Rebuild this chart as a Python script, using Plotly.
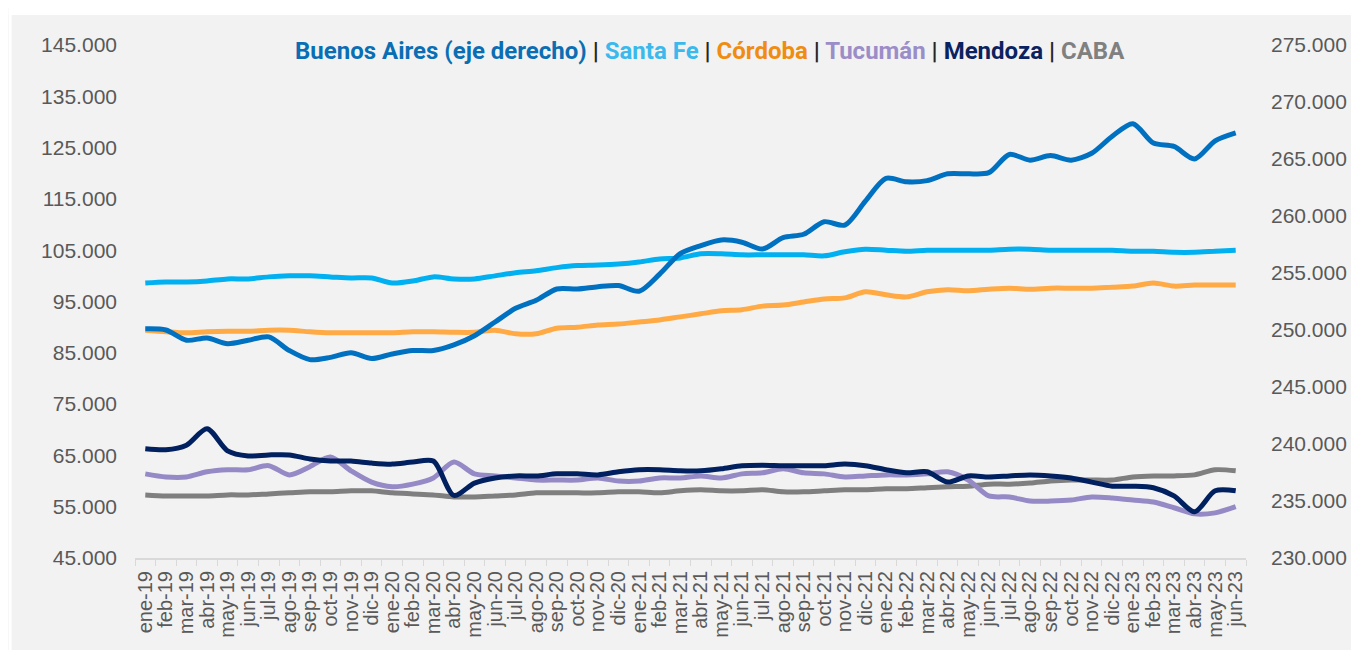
import plotly.graph_objects as go

months = ["ene", "feb", "mar", "abr", "may", "jun", "jul", "ago", "sep", "oct", "nov", "dic"]
categories = [f"{m}-{y}" for y in ["19", "20", "21", "22"] for m in months] + \
             [f"{m}-23" for m in months[:6]]

buenos_aires = [250100, 250000, 249100, 249300, 248800, 249100, 249400, 248200, 247400, 247600,
                248000, 247500, 247900, 248200, 248200, 248700, 249500, 250700, 251900, 252600,
                253600, 253600, 253800, 253900, 253400, 254900, 256700, 257400, 257900, 257700,
                257100, 258100, 258400, 259500, 259200, 261300, 263300, 263000, 263100, 263700,
                263700, 263800, 265400, 264900, 265300, 264900, 265500, 267000, 268100, 266400,
                266100, 265000, 266600, 267300]
santa_fe = [98600, 98800, 98800, 99000, 99400, 99400, 99800, 100000, 100000, 99800,
            99600, 99600, 98600, 99000, 99800, 99400, 99400, 100000, 100600, 101000,
            101600, 102000, 102100, 102300, 102700, 103300, 103500, 104300, 104300, 104100,
            104100, 104100, 104100, 103900, 104700, 105200, 105000, 104800, 105000, 105000,
            105000, 105000, 105200, 105200, 105000, 105000, 105000, 105000, 104800, 104800,
            104600, 104600, 104800, 105000]
cordoba = [89400, 89100, 88900, 89100, 89200, 89200, 89400, 89400, 89100, 88900,
           88900, 88900, 88900, 89100, 89100, 89000, 89000, 89400, 88700, 88700,
           89800, 90000, 90400, 90600, 91000, 91400, 92000, 92600, 93200, 93400,
           94100, 94300, 94900, 95500, 95700, 96900, 96300, 95900, 96900, 97300,
           97100, 97400, 97600, 97400, 97600, 97600, 97600, 97800, 98000, 98600,
           98000, 98200, 98200, 98200]
tucuman = [61400, 60800, 60800, 61800, 62200, 62200, 63000, 61200, 62800, 64700,
           62000, 59800, 58900, 59400, 60600, 63700, 61400, 61000, 60600, 60200,
           60200, 60200, 60600, 60000, 60000, 60600, 60600, 61000, 60600, 61400,
           61600, 62400, 61600, 61400, 60800, 61000, 61200, 61200, 61400, 61800,
           60200, 57100, 56900, 56100, 56100, 56300, 56900, 56700, 56300, 55900,
           54800, 53600, 53800, 55000]
mendoza = [66300, 66100, 67000, 70200, 65900, 64900, 65100, 65100, 64300, 63900,
           63900, 63500, 63300, 63700, 63900, 57200, 59600, 60600, 61000, 61000,
           61400, 61400, 61200, 61800, 62200, 62200, 62000, 62000, 62400, 63000,
           63100, 63000, 63000, 63000, 63300, 63000, 62200, 61600, 61800, 59800,
           61000, 60800, 61000, 61200, 61000, 60600, 59800, 59000, 59000, 58700,
           57100, 54000, 58100, 58100]
caba = [57300, 57100, 57100, 57100, 57300, 57300, 57500, 57700, 57900, 57900,
        58100, 58100, 57700, 57500, 57300, 56900, 56900, 57100, 57300, 57700,
        57700, 57700, 57700, 57900, 57900, 57700, 58100, 58300, 58100, 58100,
        58300, 57900, 57900, 58100, 58300, 58300, 58500, 58500, 58700, 58900,
        59000, 59400, 59400, 59600, 60000, 60200, 60200, 60200, 60800, 61000,
        61000, 61200, 62200, 62000]

left_series = [
    ("CABA", caba, "#7F7F7F"),
    ("Tucumán", tucuman, "#968AC6"),
    ("Mendoza", mendoza, "#002060"),
    ("Córdoba", cordoba, "#FFAA44"),
    ("Santa Fe", santa_fe, "#00B0F0"),
]

fig = go.Figure()
for name, vals, col in left_series:
    fig.add_trace(go.Scatter(x=categories, y=vals, name=name, mode="lines",
                             line=dict(color=col, width=5, shape="spline", smoothing=0.8),
                             yaxis="y"))
fig.add_trace(go.Scatter(x=categories, y=buenos_aires, name="Buenos Aires", mode="lines",
                         line=dict(color="#0070C0", width=5, shape="spline", smoothing=0.8),
                         yaxis="y2"))

# the page body has an 8px margin; the figure fills the rest of the window
W, H = 1351, 642
L, R, T, B = 126.5, 112.5, 37, 92
pw, ph = W - L - R, H - T - B

def px(xp):
    return (xp - L) / pw

def py(yp):
    return (H - B - yp) / ph

ytick_font = dict(family="Liberation Sans, Arial, sans-serif", size=21, color="#595959")
xtick_font = dict(family="Liberation Sans, Arial, sans-serif", size=20, color="#595959")

sep = "<span style='color:#262626'> | </span>"
legend_html = (
    "<b><span style='color:#0A6EB4'>Buenos Aires (eje derecho)</span>" + sep +
    "<span style='color:#3CB9EC'>Santa Fe</span>" + sep +
    "<span style='color:#F08C10'>Córdoba</span>" + sep +
    "<span style='color:#9B8DC8'>Tucumán</span>" + sep +
    "<span style='color:#0A2260'>Mendoza</span>" + sep +
    "<span style='color:#808080'>CABA</span></b>"
)

fig.update_layout(
    width=W, height=H,
    margin=dict(l=L, r=R, t=T, b=B, pad=0),
    paper_bgcolor="#F2F2F2", plot_bgcolor="#F2F2F2",
    separators=",.",
    showlegend=False,
    xaxis=dict(type="category", tickangle=-90, tickfont=xtick_font,
               tickmode="linear", tick0=0, dtick=1,
               showgrid=False, showline=True, linecolor="#D9D9D9", linewidth=2,
               ticks="outside", ticklen=6, tickcolor="#D9D9D9", tickwidth=1,
               tickson="boundaries", range=[-0.5, len(categories) - 0.5],
               ticklabelstandoff=3),
    yaxis=dict(range=[45000, 145000], dtick=10000, tick0=45000, tickformat=",d",
               tickfont=ytick_font, showgrid=False, zeroline=False, showline=False,
               ticklabelstandoff=17),
    yaxis2=dict(range=[230000, 275000], dtick=5000, tick0=230000, tickformat=",d",
                tickfont=ytick_font, showgrid=False, zeroline=False, showline=False,
                overlaying="y", side="right", ticklabelstandoff=24),
    annotations=[dict(text=legend_html, xref="paper", yref="paper",
                      x=px(702), y=py(43), xanchor="center", yanchor="middle",
                      showarrow=False,
                      font=dict(family="Roboto, sans-serif", size=24))],
    shapes=[
        dict(type="rect", xref="paper", yref="paper", layer="above",
             x0=px(0), x1=px(3), y0=py(H), y1=py(0),
             fillcolor="white", line=dict(width=0)),
        dict(type="rect", xref="paper", yref="paper", layer="above",
             x0=px(0), x1=px(W), y0=py(7), y1=py(0),
             fillcolor="white", line=dict(width=0)),
    ],
)

fig.write_html("out.html")
